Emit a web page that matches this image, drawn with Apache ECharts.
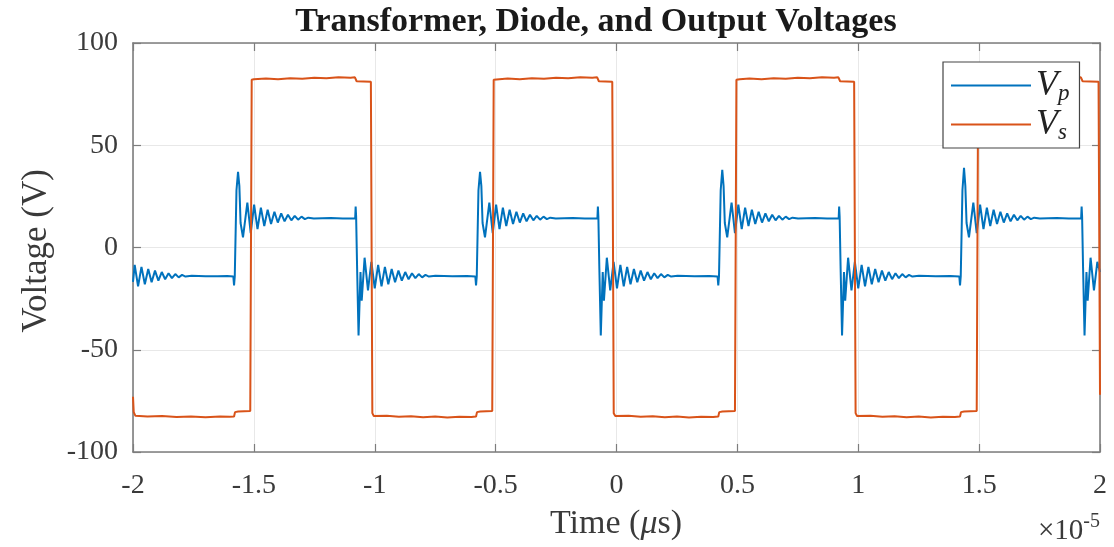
<!DOCTYPE html>
<html>
<head>
<meta charset="utf-8">
<script src="https://cdn.jsdelivr.net/npm/echarts@6/dist/echarts.min.js"></script>
<style>
html,body{margin:0;padding:0;background:#fff;}
#chart{width:1114px;height:547px;}
</style>
</head>
<body>
<div id="chart"></div>
<script>
// Time in units of 1e-5 s, voltage in V
const xTicks = [-2, -1.5, -1, -0.5, 0, 0.5, 1, 1.5, 2];
const yTicks = [-100, -50, 0, 50, 100];

// Vp (primary) voltage
const vpLead = [[-2.000,-16.8],[-1.993,-8.5],[-1.979,-19],[-1.965,-9.5],[-1.951,-18],[-1.937,-10.5],[-1.923,-17],[-1.909,-11.3],[-1.895,-16.2],[-1.881,-12],[-1.867,-15.5],[-1.853,-12.6],[-1.839,-15],[-1.825,-13],[-1.811,-14.6],[-1.797,-13.4],[-1.783,-14.2],[-1.757,-13.8],[-1.70,-14.0],[-1.65,-14.1],[-1.61,-13.9]];
const vpPeriod1 = [[-1.585,-14.2],[-1.582,-18.5],[-1.579,-14],[-1.572,28],[-1.5655,37],[-1.560,30],[-1.555,12],[-1.545,5],[-1.527,22],[-1.513,7],[-1.499,21],[-1.485,9],[-1.471,19.5],[-1.457,10.5],[-1.443,18.5],[-1.429,11.5],[-1.415,17.5],[-1.401,12.2],[-1.387,16.7],[-1.373,12.8],[-1.359,16],[-1.345,13.3],[-1.331,15.5],[-1.317,13.6],[-1.303,15.1],[-1.289,13.9],[-1.275,14.6],[-1.252,14.2],[-1.182,14.4],[-1.132,14.2],[-1.081,14.3],
  [-1.079,20],[-1.077,15],[-1.073,-10],[-1.067,-43],[-1.059,-12],[-1.054,-26],[-1.042,-5],[-1.028,-21],[-1.014,-7],[-1.000,-20],[-0.986,-8.5],[-0.972,-19],[-0.958,-9.5],[-0.944,-18],[-0.930,-10.5],[-0.916,-17],[-0.902,-11.3],[-0.888,-16.2],[-0.874,-12],[-0.860,-15.5],[-0.846,-12.6],[-0.832,-15],[-0.818,-13],[-0.804,-14.6],[-0.790,-13.4],[-0.776,-14.2],[-0.749,-13.8],[-0.679,-14.1],[-0.619,-13.9]];
const vpPeriod2 = [[-0.584,-14.2],[-0.581,-18.5],[-0.578,-14],[-0.571,28],[-0.5645,37],[-0.559,30],[-0.554,12],[-0.544,5],[-0.526,22],[-0.512,7],[-0.498,21],[-0.484,9],[-0.470,19.5],[-0.456,10.5],[-0.442,18.5],[-0.428,11.5],[-0.414,17.5],[-0.400,12.2],[-0.386,16.7],[-0.372,12.8],[-0.358,16],[-0.344,13.3],[-0.330,15.5],[-0.316,13.6],[-0.302,15.1],[-0.288,13.9],[-0.274,14.6],[-0.251,14.2],[-0.181,14.4],[-0.131,14.2],[-0.079,14.3],
  [-0.077,20],[-0.075,15],[-0.071,-10],[-0.065,-43],[-0.057,-12],[-0.052,-26],[-0.040,-5],[-0.026,-21],[-0.012,-7],[0.002,-20],[0.016,-8.5],[0.030,-19],[0.044,-9.5],[0.058,-18],[0.072,-10.5],[0.086,-17],[0.100,-11.3],[0.114,-16.2],[0.128,-12],[0.142,-15.5],[0.156,-12.6],[0.170,-15],[0.184,-13],[0.198,-14.6],[0.212,-13.4],[0.226,-14.2],[0.253,-13.8],[0.323,-14.1],[0.383,-13.9]];
const vpPeriod3 = [[0.418,-14.2],[0.421,-18.5],[0.424,-14],[0.431,28],[0.4375,38],[0.443,30],[0.448,12],[0.458,5],[0.476,22],[0.490,7],[0.504,21],[0.518,9],[0.532,19.5],[0.546,10.5],[0.560,18.5],[0.574,11.5],[0.588,17.5],[0.602,12.2],[0.616,16.7],[0.630,12.8],[0.644,16],[0.658,13.3],[0.672,15.5],[0.686,13.6],[0.700,15.1],[0.714,13.9],[0.728,14.6],[0.751,14.2],[0.821,14.4],[0.871,14.2],[0.919,14.3],
  [0.921,20],[0.923,15],[0.927,-10],[0.933,-43],[0.941,-12],[0.946,-26],[0.958,-5],[0.972,-21],[0.986,-7],[1.000,-20],[1.014,-8.5],[1.028,-19],[1.042,-9.5],[1.056,-18],[1.070,-10.5],[1.084,-17],[1.098,-11.3],[1.112,-16.2],[1.126,-12],[1.140,-15.5],[1.154,-12.6],[1.168,-15],[1.182,-13],[1.196,-14.6],[1.210,-13.4],[1.224,-14.2],[1.251,-13.8],[1.321,-14.1],[1.381,-13.9]];
const vpPeriod4 = [[1.418,-14.2],[1.421,-18.5],[1.424,-14],[1.431,28],[1.4375,39],[1.443,30],[1.448,12],[1.458,5],[1.476,22],[1.490,7],[1.504,21],[1.518,9],[1.532,19.5],[1.546,10.5],[1.560,18.5],[1.574,11.5],[1.588,17.5],[1.602,12.2],[1.616,16.7],[1.630,12.8],[1.644,16],[1.658,13.3],[1.672,15.5],[1.686,13.6],[1.700,15.1],[1.714,13.9],[1.728,14.6],[1.751,14.2],[1.821,14.4],[1.871,14.2],[1.922,14.3],
  [1.924,20],[1.926,15],[1.930,-10],[1.936,-43],[1.944,-12],[1.949,-26],[1.961,-5],[1.975,-21],[1.989,-7],[2.000,-12]];

// Vs (secondary) voltage
const vsLead = [[-2.000,-73],[-1.997,-80.5],[-1.990,-82.3],[-1.94,-82.6],[-1.88,-82.4],[-1.82,-82.9],[-1.76,-82.6],[-1.70,-83],[-1.64,-82.7],[-1.60,-82.8]];
const vsPeriod1 = [[-1.582,-82.6],[-1.578,-80.5],[-1.565,-80.2],[-1.515,-80],[-1.509,82],[-1.50,82.3],[-1.45,82.6],[-1.40,82.3],[-1.35,82.8],[-1.30,82.5],[-1.25,83],[-1.20,82.8],[-1.15,83.2],[-1.10,83],[-1.082,83.2],[-1.075,81.3],[-1.016,81],[-1.010,-81],[-1.004,-82.4],[-0.95,-82.3],[-0.90,-82.8],[-0.85,-82.5],[-0.80,-83],[-0.75,-82.7],[-0.70,-83.1],[-0.65,-82.8],[-0.60,-82.9]];
const vsPeriod2 = [[-0.581,-82.6],[-0.577,-80.5],[-0.564,-80.2],[-0.514,-80],[-0.508,82],[-0.50,82.3],[-0.45,82.6],[-0.40,82.3],[-0.35,82.8],[-0.30,82.5],[-0.25,83],[-0.20,82.8],[-0.15,83.2],[-0.10,83],[-0.080,83.2],[-0.073,81.3],[-0.0175,81],[-0.0115,-81],[-0.005,-82.4],[0.05,-82.3],[0.10,-82.8],[0.15,-82.5],[0.20,-83],[0.25,-82.7],[0.30,-83.1],[0.35,-82.8],[0.40,-82.9]];
const vsPeriod3 = [[0.421,-82.6],[0.425,-80.5],[0.438,-80.2],[0.490,-80],[0.496,82],[0.51,82.3],[0.55,82.6],[0.60,82.3],[0.65,82.8],[0.70,82.5],[0.75,83],[0.80,82.8],[0.85,83.2],[0.90,83],[0.918,83.2],[0.925,81.3],[0.983,81],[0.989,-81],[0.995,-82.4],[1.05,-82.3],[1.10,-82.8],[1.15,-82.5],[1.20,-83],[1.25,-82.7],[1.30,-83.1],[1.35,-82.8],[1.40,-82.9]];
const vsPeriod4 = [[1.421,-82.6],[1.425,-80.5],[1.438,-80.2],[1.490,-80],[1.496,82],[1.51,82.3],[1.55,82.6],[1.60,82.3],[1.65,82.8],[1.70,82.5],[1.75,83],[1.80,82.8],[1.85,83.2],[1.90,83],[1.921,83.2],[1.928,81.3],[1.994,81],[2.000,-72]];

const seriesNames = ['Vp', 'Vs'];
const titleText = 'Transformer, Diode, and Output Voltages';

const vpData = [].concat(vpLead, vpPeriod1, vpPeriod2, vpPeriod3, vpPeriod4);
const vsData = [].concat(vsLead, vsPeriod1, vsPeriod2, vsPeriod3, vsPeriod4);

const serif = '"Liberation Serif", "Times New Roman", serif';
const axisGray = '#7d7d7d';
const labelColor = '#3a3a3a';

const chart = echarts.init(document.getElementById('chart'), null, {renderer: 'canvas'});

const xBase = {
  type: 'value', min: xTicks[0], max: xTicks[xTicks.length - 1], interval: 0.5
};
const yBase = {
  type: 'value', min: yTicks[0], max: yTicks[yTicks.length - 1], interval: 50
};

chart.setOption({
  animation: false,
  backgroundColor: '#ffffff',
  grid: {left: 133, right: 14, top: 43, bottom: 95, containLabel: false},
  xAxis: [
    Object.assign({}, xBase, {
      position: 'bottom',
      axisLine: {show: true, onZero: false, lineStyle: {color: axisGray, width: 1.6}},
      axisTick: {show: true, inside: true, length: 8, lineStyle: {color: axisGray, width: 1.2}},
      axisLabel: {show: true, margin: 20, color: labelColor, fontFamily: serif, fontSize: 28,
        formatter: v => String(v)},
      splitLine: {show: true, lineStyle: {color: '#e8e8e8', width: 1}}
    }),
    Object.assign({}, xBase, {
      position: 'top',
      axisLine: {show: true, onZero: false, lineStyle: {color: axisGray, width: 1.6}},
      axisTick: {show: true, inside: true, length: 8, lineStyle: {color: axisGray, width: 1.2}},
      axisLabel: {show: false},
      splitLine: {show: false}
    })
  ],
  yAxis: [
    Object.assign({}, yBase, {
      position: 'left',
      axisLine: {show: true, onZero: false, lineStyle: {color: axisGray, width: 1.6}},
      axisTick: {show: true, inside: true, length: 8, lineStyle: {color: axisGray, width: 1.2}},
      axisLabel: {show: true, margin: 15, color: labelColor, fontFamily: serif, fontSize: 28,
        formatter: v => String(v)},
      splitLine: {show: true, lineStyle: {color: '#e8e8e8', width: 1}}
    }),
    Object.assign({}, yBase, {
      position: 'right',
      axisLine: {show: true, onZero: false, lineStyle: {color: axisGray, width: 1.6}},
      axisTick: {show: true, inside: true, length: 8, lineStyle: {color: axisGray, width: 1.2}},
      axisLabel: {show: false},
      splitLine: {show: false}
    })
  ],
  legend: {
    show: true,
    orient: 'vertical',
    left: 943,
    top: 62,
    padding: [4, 10, 4, 8],
    icon: 'rect',
    itemWidth: 80,
    itemHeight: 2,
    itemGap: 0,
    backgroundColor: '#ffffff',
    borderColor: '#444444',
    borderWidth: 1.2,
    borderRadius: 0,
    data: seriesNames,
    formatter: function (name) {
      return name === 'Vp' ? '{v|V}{s|p}' : '{v|V}{s|s}';
    },
    textStyle: {
      color: '#222',
      rich: {
        v: {fontFamily: serif, fontStyle: 'italic', fontSize: 36, lineHeight: 38, color: '#222'},
        s: {fontFamily: serif, fontStyle: 'italic', fontSize: 23, lineHeight: 38, color: '#222', padding: [16, 0, 0, 0]}
      }
    }
  },
  series: [
    {
      name: seriesNames[0], type: 'line', data: vpData, xAxisIndex: 0, yAxisIndex: 0,
      symbol: 'none', showSymbol: false, smooth: false, clip: true,
      lineStyle: {color: '#0072BD', width: 2}, itemStyle: {color: '#0072BD'}
    },
    {
      name: seriesNames[1], type: 'line', data: vsData, xAxisIndex: 0, yAxisIndex: 0,
      symbol: 'none', showSymbol: false, smooth: false, clip: true,
      lineStyle: {color: '#D95319', width: 2}, itemStyle: {color: '#D95319'}
    }
  ],
  graphic: [
    {
      type: 'text', silent: true,
      x: 596, y: 22,
      style: {text: titleText, fontFamily: serif, fontWeight: 'bold', fontSize: 34, fill: '#1a1a1a', align: 'center', verticalAlign: 'middle'}
    },
    {
      type: 'text', silent: true,
      x: 37, y: 251, rotation: Math.PI / 2,
      style: {text: 'Voltage (V)', fontFamily: serif, fontSize: 35, fill: labelColor, align: 'center', verticalAlign: 'middle'}
    },
    {
      type: 'text', silent: true,
      x: 616, y: 524,
      style: {
        text: 'Time ({i|μ}s)', fontFamily: serif, fontSize: 34, fill: labelColor, align: 'center', verticalAlign: 'middle',
        rich: {i: {fontFamily: serif, fontStyle: 'italic', fontSize: 34, fill: labelColor}}
      }
    },
    {
      type: 'text', silent: true,
      x: 1100, y: 531,
      style: {
        text: '×10{sup|-5}', fontFamily: serif, fontSize: 29, fill: labelColor, align: 'right', verticalAlign: 'middle',
        rich: {sup: {fontFamily: serif, fontSize: 20, fill: labelColor, padding: [0, 0, 18, 0]}}
      }
    }
  ]
});
</script>
</body>
</html>
